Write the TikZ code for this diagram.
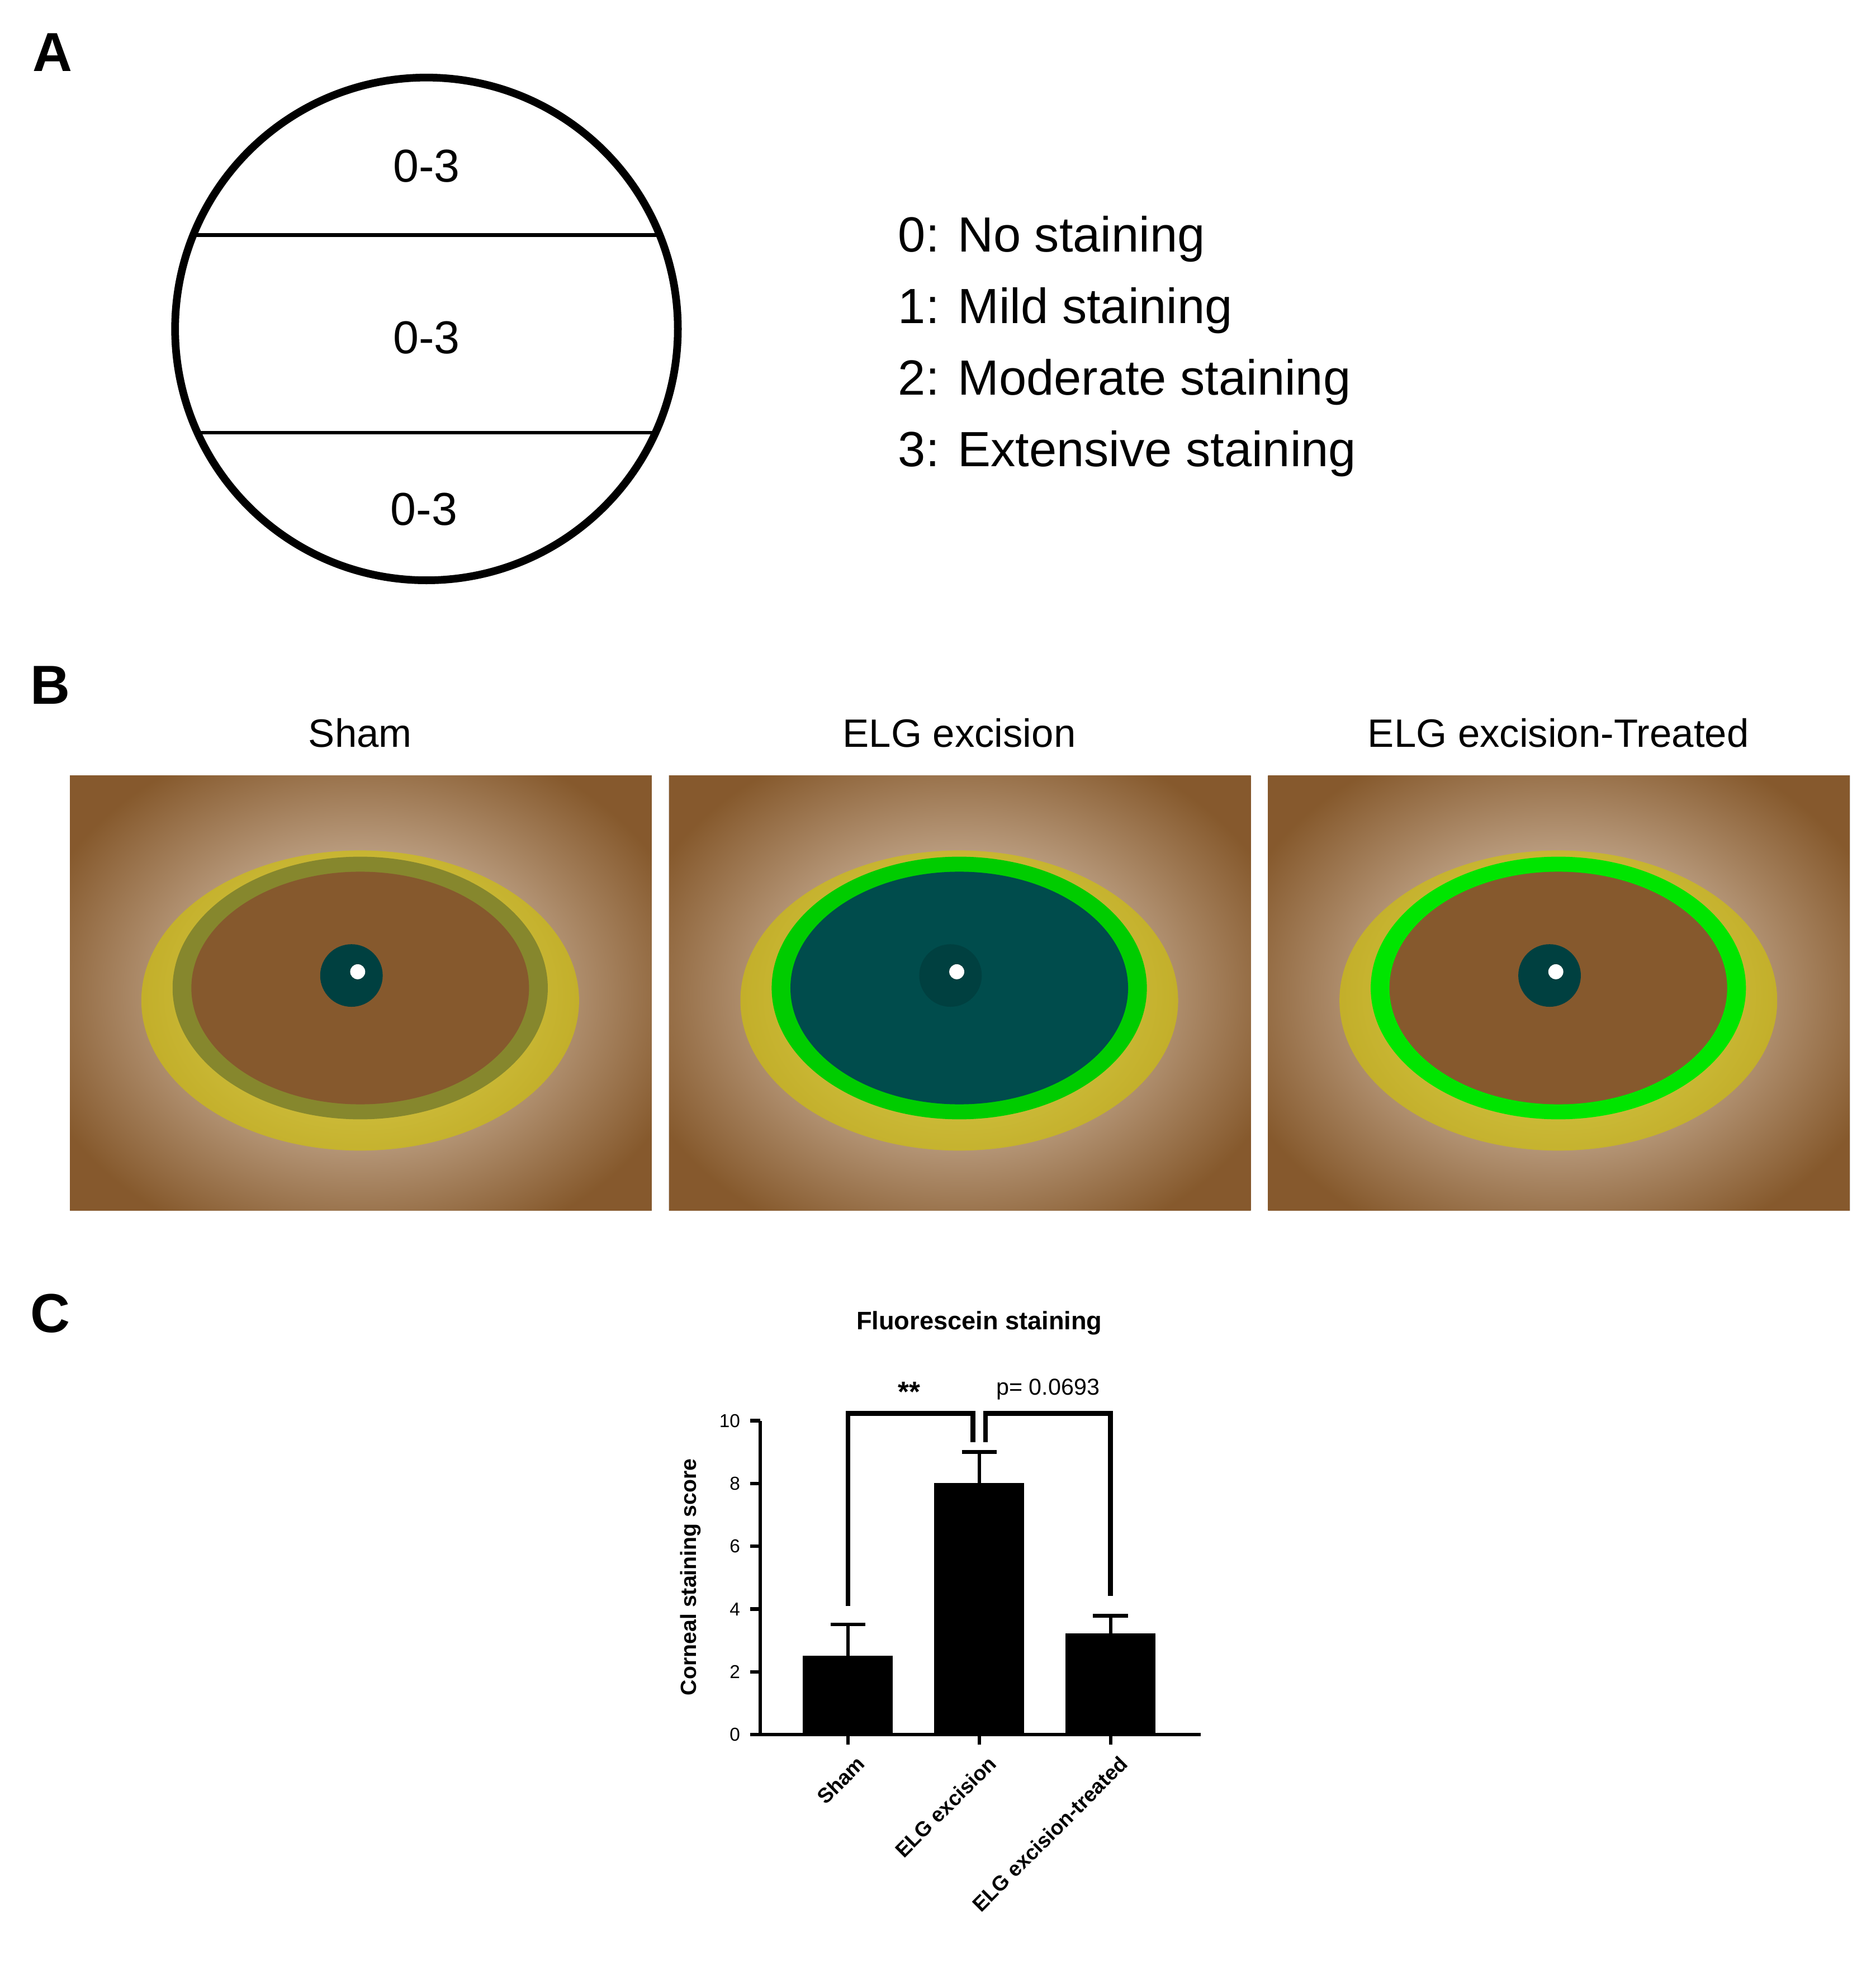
\documentclass[tikz,border=0pt]{standalone}
\usepackage{fontspec}
\setmainfont{Liberation Sans}
\begin{document}
\begin{tikzpicture}[x=0.02cm,y=-0.02cm,
 panel/.style={font=\fontsize{25}{28}\selectfont\bfseries},
 big/.style={font=\fontsize{21}{24}\selectfont},
 ttl/.style={font=\fontsize{18}{21}\selectfont},
 tick/.style={font=\fontsize{8.5}{10}\selectfont},
 bar/.style={fill=black},
 ln/.style={line width=1.6pt}]
\useasboundingbox (0,0) rectangle (1500,1576);
\node[panel] (pA) at (42,42) {A};
\node[panel] (pB) at (40,548) {B};
\node[panel] (pC) at (40,1050) {C};
% panel A
\node[circle,draw,line width=3.5pt,minimum size=402*0.02cm,inner sep=0] (circ) at (341,263) {};
\draw[line width=1.6pt] (155,188) -- (527,188);
\draw[line width=1.6pt] (155,346) -- (527,346);
\node[big] (s1) at (341,133) {0-3};
\node[big] (s2) at (341,270) {0-3};
\node[big] (s3) at (339,407) {0-3};
\node[font=\fontsize{22.5}{32.5}\selectfont,anchor=west,align=left] (leg) at (712,277) {0: No staining\\1: Mild staining\\2: Moderate staining\\3: Extensive staining};
% panel B
\node[ttl] (t1) at (288,586) {Sham};
\node[ttl] (t2) at (767,586) {ELG excision};
\node[ttl] (t3) at (1246,586) {ELG excision-Treated};
\foreach \x/\n/\ring/\iris in {56/ph1/black!40!green!30!brown/brown!70!black, 535/ph2/green!80!black/teal!60!black, 1014/ph3/green!90!black/brown!70!black}{
 \begin{scope}
 \clip (\x,620) rectangle (\x+465,968);
 \fill[inner color=white!80!brown, outer color=brown!70!black] (\x-40,580) rectangle (\x+505,1010);
 \fill[yellow!60!olive,opacity=.6] (\x+232,800) ellipse (175 and 120);
 \fill[\ring] (\x+232,790) ellipse (150 and 105);
 \fill[\iris] (\x+232,790) ellipse (135 and 93);
 \fill[teal!50!black] (\x+225,780) circle (25);
 \fill[white] (\x+230,777) circle (6);
 \end{scope}
}
% panel C
\node[font=\fontsize{11.5}{13}\selectfont\bfseries] (ct) at (783,1058) {Fluorescein staining};
\draw[ln] (608,1136) -- (608,1387) -- (960,1387);
\foreach \v in {0,2,4,6,8,10}{
 \draw[ln] (600,1387-25.1*\v) -- (608,1387-25.1*\v);
 \node[tick,anchor=east] at (598,1387-25.1*\v) {\v};}
\node[rotate=90,font=\fontsize{10}{12}\selectfont\bfseries] (yl) at (552,1261) {Corneal staining score};
\fill[bar] (642,1387) rectangle (714,1324);
\fill[bar] (747,1387) rectangle (819,1186);
\fill[bar] (852,1387) rectangle (924,1306);
\draw[ln] (678,1324) -- (678,1299) (664,1299) -- (692,1299);
\draw[ln] (783,1186) -- (783,1161) (769,1161) -- (797,1161);
\draw[ln] (888,1306) -- (888,1292) (874,1292) -- (902,1292);
\foreach \x in {678,783,888} \draw[ln] (\x,1387) -- (\x,1395);
\draw[line width=2.2pt] (678,1284) -- (678,1130) -- (778,1130) -- (778,1153);
\draw[line width=2.2pt] (788,1153) -- (788,1130) -- (888,1130) -- (888,1276);
\node[font=\fontsize{13}{14}\selectfont\bfseries] (ss) at (727,1113) {**};
\node[font=\fontsize{10.5}{12}\selectfont] (pv) at (838,1111) {p= 0.0693};
\node[rotate=45,anchor=north east,inner sep=1pt,font=\fontsize{9.5}{11}\selectfont\bfseries] (x1) at (684,1400) {Sham};
\node[rotate=45,anchor=north east,inner sep=1pt,font=\fontsize{9.5}{11}\selectfont\bfseries] (x2) at (789,1400) {ELG excision};
\node[rotate=45,anchor=north east,inner sep=1pt,font=\fontsize{9.5}{11}\selectfont\bfseries] (x3) at (894,1400) {ELG excision-treated};
\end{tikzpicture}
\end{document}
